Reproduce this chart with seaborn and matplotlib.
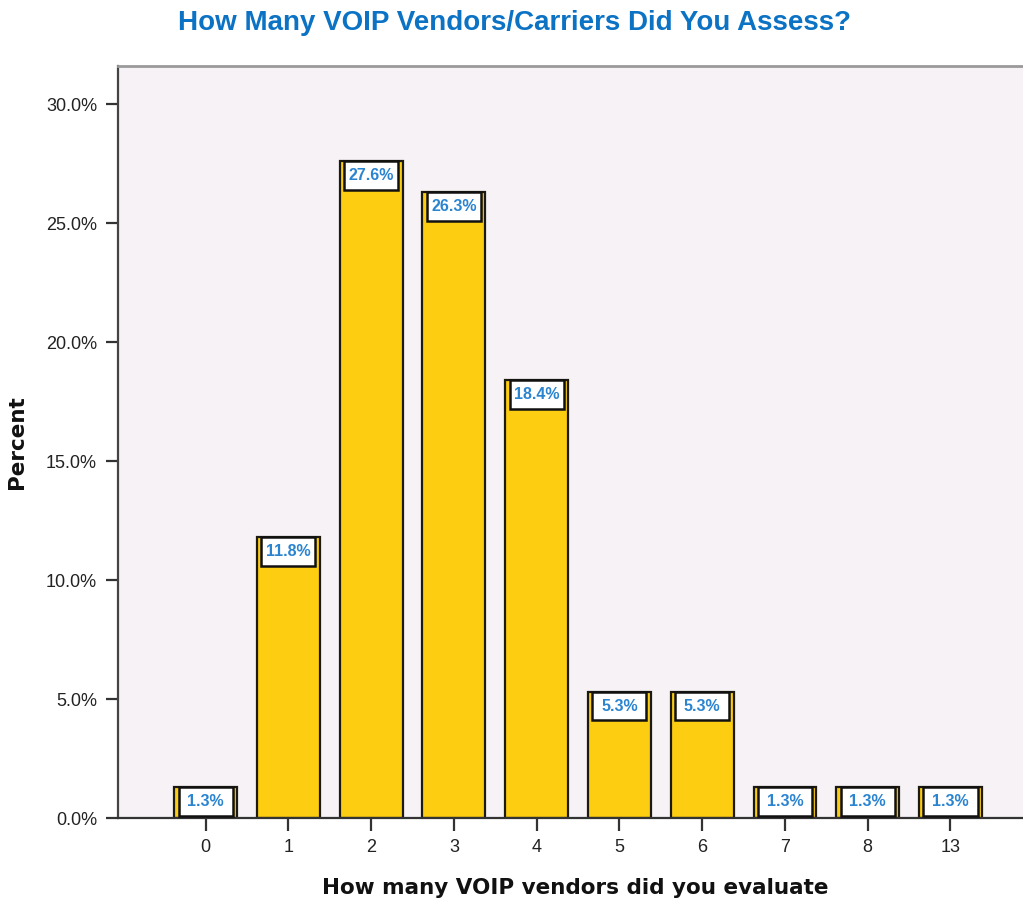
import matplotlib
matplotlib.use("Agg")
import matplotlib.pyplot as plt
from matplotlib.patches import Rectangle
from matplotlib.ticker import FuncFormatter, MultipleLocator
import pandas as pd
import seaborn as sns

# Survey results: number of VOIP vendors evaluated and share of respondents
vendor_counts = ["0", "1", "2", "3", "4", "5", "6", "7", "8", "13"]
percents = [1.3, 11.8, 27.6, 26.3, 18.4, 5.3, 5.3, 1.3, 1.3, 1.3]

df = pd.DataFrame({"vendors": vendor_counts, "percent": percents})

sns.set_theme(style="white")
plt.rcParams["font.family"] = ["Liberation Sans", "DejaVu Sans"]

BAR_COLOR = "#FDCD12"
EDGE_COLOR = "#1c1a10"
LABEL_COLOR = "#2b84d0"
TITLE_COLOR = "#0b72c4"
BG_COLOR = "#F6F2F6"

fig = plt.figure(figsize=(10.23, 9.01), dpi=100)
ax = fig.add_axes([0.1153, 0.0921, 0.8847 + 0.01, 0.8346])
ax.set_facecolor(BG_COLOR)

sns.barplot(data=df, x="vendors", y="percent", order=vendor_counts,
            color=BAR_COLOR, saturation=1, width=0.76,
            edgecolor=EDGE_COLOR, linewidth=1.6, ax=ax)

# Value labels: white boxed tags sitting at the top inside each bar
box_h = 1.2
for bar, val in zip(ax.patches, percents):
    cx = bar.get_x() + bar.get_width() / 2
    bw = bar.get_width() * 0.86
    top = bar.get_height()
    ax.add_patch(Rectangle((cx - bw / 2, top - box_h), bw, box_h,
                           facecolor="white", edgecolor="#111111",
                           linewidth=1.8, zorder=3))
    ax.text(cx, top - box_h / 2, f"{val:.1f}%", ha="center", va="center",
            fontsize=11.5, fontweight="bold", color=LABEL_COLOR, zorder=4)

ax.set_xlim(-1.06, 10.0)
ax.set_ylim(0, 31.6)
ax.yaxis.set_major_locator(MultipleLocator(5))
ax.yaxis.set_major_formatter(FuncFormatter(lambda v, _: f"{v:.1f}%"))

ax.tick_params(axis="both", which="major", direction="out", length=9,
               width=1.6, color="#333333", labelsize=13, labelcolor="#222222",
               left=True, bottom=True, pad=6)

ax.spines["right"].set_visible(False)
ax.spines["top"].set_color("#9a9a9a")
ax.spines["top"].set_linewidth(2)
ax.spines["left"].set_color("#444444")
ax.spines["left"].set_linewidth(1.6)
ax.spines["bottom"].set_color("#333333")
ax.spines["bottom"].set_linewidth(1.6)

ax.set_xlabel("How many VOIP vendors did you evaluate", fontsize=15.5,
              fontweight="bold", family=["DejaVu Sans"], color="#111111",
              labelpad=16)
ax.set_ylabel("Percent", fontsize=15.5, fontweight="bold",
              family=["DejaVu Sans"], color="#111111", labelpad=14)

fig.text(0.503, 0.975, "How Many VOIP Vendors/Carriers Did You Assess?",
         ha="center", va="center", fontsize=20, fontweight="bold",
         color=TITLE_COLOR)

fig.savefig("out.png", dpi=100, facecolor="white")
